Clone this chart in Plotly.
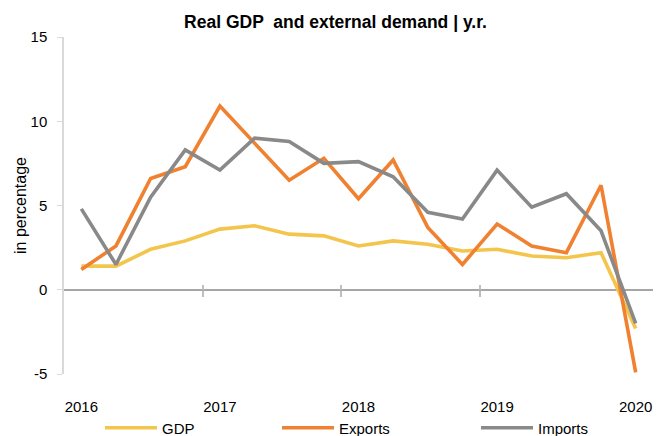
import plotly.graph_objects as go

quarters = ["2016Q1", "2016Q2", "2016Q3", "2016Q4",
            "2017Q1", "2017Q2", "2017Q3", "2017Q4",
            "2018Q1", "2018Q2", "2018Q3", "2018Q4",
            "2019Q1", "2019Q2", "2019Q3", "2019Q4",
            "2020Q1"]
gdp = [1.4, 1.4, 2.4, 2.9, 3.6, 3.8, 3.3, 3.2, 2.6, 2.9, 2.7, 2.3, 2.4, 2.0, 1.9, 2.2, -2.3]
exports = [1.2, 2.6, 6.6, 7.3, 10.9, 8.7, 6.5, 7.8, 5.4, 7.7, 3.7, 1.5, 3.9, 2.6, 2.2, 6.2, -4.9]
imports = [4.8, 1.5, 5.5, 8.3, 7.1, 9.0, 8.8, 7.5, 7.6, 6.7, 4.6, 4.2, 7.1, 4.9, 5.7, 3.5, -2.0]
year_labels = ["2016", "2017", "2018", "2019", "2020"]
y_ticks = [-5, 0, 5, 10, 15]
y_ticktext = ["-5", "0", "5", "10", "15"]

FONT = "Liberation Sans, Arial, sans-serif"
W, H = 654, 428  # page body has an 8px margin

year_ticks = [q for q in quarters if q.endswith("Q1")]
boundaries = [i - 0.5 for i, q in enumerate(quarters) if q.endswith("Q1") and 0 < i < len(quarters) - 1]
xrange = [-0.5, len(quarters) - 0.5]

fig = go.Figure()
series = [("GDP", gdp, "#F4C54C", "legend", "x"),
          ("Exports", exports, "#F08130", "legend2", "x2"),
          ("Imports", imports, "#898989", "legend3", "x3")]
for name, vals, color, lg, xa in series:
    fig.add_trace(go.Scatter(x=quarters, y=vals, mode="lines", name=name,
                             line=dict(color=color, width=3.6), legend=lg,
                             xaxis=xa, yaxis="y", showlegend=True))

ITEM_W = 52
legend_common = dict(orientation="h", xref="container", yref="container",
                     yanchor="middle", y=1 - 420 / H, bgcolor="rgba(0,0,0,0)",
                     borderwidth=0, itemwidth=ITEM_W,
                     font=dict(family=FONT, size=15, color="#000000"))

boundary_axis = dict(type="category", overlaying="x", anchor="free", position=0.25,
                     range=xrange, tickvals=boundaries, tickcolor="#BFBFBF",
                     tickwidth=1.5, showticklabels=False, showline=False,
                     showgrid=False, zeroline=False, automargin=False)

fig.update_layout(
    template="none",
    width=W, height=H,
    margin=dict(l=56, r=9, t=29, b=62),
    paper_bgcolor="white", plot_bgcolor="white",
    font=dict(family=FONT, color="#000000"),
    showlegend=True,
    title=dict(text="<b>Real GDP  and external demand | y.r.</b>",
               x=327.5 / W, xref="container", xanchor="center",
               y=1 - 14 / H, yref="container", yanchor="middle",
               font=dict(family=FONT, size=17.5, color="#000000")),
    xaxis=dict(type="category", range=xrange, tickvals=year_ticks, ticktext=year_labels,
               ticks="outside", ticklen=19, tickcolor="rgba(0,0,0,0)",
               showline=False, showgrid=False, zeroline=False, automargin=False,
               tickfont=dict(family=FONT, size=15, color="#000000")),
    xaxis2=dict(ticks="outside", ticklen=6, **boundary_axis),
    xaxis3=dict(ticks="inside", ticklen=5, **boundary_axis),
    yaxis=dict(range=[-5, 15], tickvals=y_ticks, ticktext=y_ticktext,
               showline=True, linecolor="#D9D9D9", linewidth=1.5,
               ticks="outside", ticklen=5, tickcolor="#D9D9D9", ticklabelstandoff=7,
               showgrid=False, zeroline=True, zerolinecolor="#A6A6A6", zerolinewidth=1.5,
               automargin=False,
               tickfont=dict(family=FONT, size=15, color="#000000"),
               title=dict(text="in percentage", standoff=0,
                          font=dict(family=FONT, size=16, color="#000000"))),
    legend=dict(x=(162 - 8 - ITEM_W - 10) / W, **legend_common),
    legend2=dict(x=(339 - 8 - ITEM_W - 10) / W, **legend_common),
    legend3=dict(x=(538 - 8 - ITEM_W - 10) / W, **legend_common),
)

fig.write_html("out.html")
